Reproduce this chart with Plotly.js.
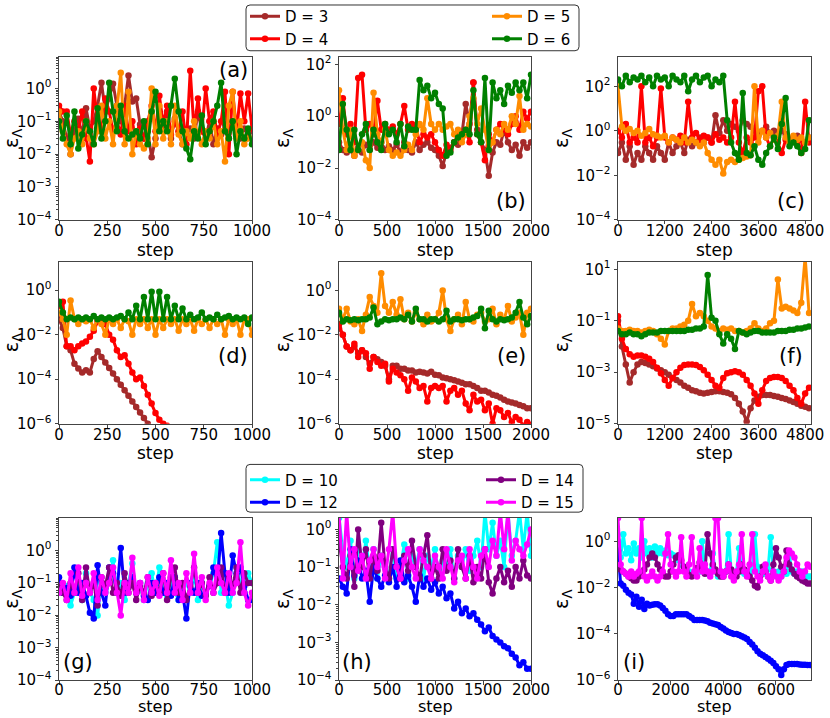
<!DOCTYPE html>
<html><head><meta charset="utf-8">
<script src="https://cdn.plot.ly/plotly-3.0.1.min.js"></script>
<style>html,body{margin:0;padding:0;background:#fff}#chart{width:830px;height:718px}</style>
</head><body><div id="chart"></div>
<script>
// ---------- sampling interval (steps between stored points) ----------
const dxA = 20, dxB = 40, dxC = 100, dxD = 20, dxE = 40, dxF = 100, dxG = 20, dxH = 40, dxI = 100;

// ---------- panel (a) ----------
const aD3 = [0.2,0.1,0.03,0.01,0.05,0.12,0.04,0.25,0.06,0.1,0.3,1.5,0.2,0.5,1.4,0.3,0.1,0.3,2.5,0.4,0.5,0.08,0.03,0.05,0.008,0.03,0.1,0.05,0.2,0.03,0.12,0.05,0.02,0.04,0.06,0.03,0.2,0.05,0.03,0.1,0.02,0.06,0.04,0.08,0.03,0.1,0.05,0.03,0.06,0.04,0.05];
const aD4 = [0.3,0.2,0.2,0.04,0.1,0.05,0.2,0.03,0.006,1.0,0.1,0.05,0.5,0.2,0.05,0.1,0.04,0.3,0.05,0.1,0.02,0.06,0.03,0.1,0.3,0.05,0.6,0.08,0.3,0.04,0.1,0.05,0.2,0.02,3.5,0.05,0.5,0.05,1.0,0.1,0.2,0.04,0.1,0.8,0.01,0.8,0.05,0.7,0.1,0.7,0.06];
const aD5 = [0.2,0.05,0.02,0.01,0.03,0.05,0.02,0.1,0.03,0.02,0.05,0.3,0.03,0.1,0.02,0.3,3.0,0.02,0.8,0.01,0.05,0.02,0.015,0.03,1.0,0.02,0.3,0.03,0.1,0.02,0.3,0.04,0.02,0.05,0.03,0.1,0.04,0.02,0.05,0.03,0.1,0.02,0.05,0.006,0.3,0.8,0.03,0.1,0.02,0.03,0.03];
const aD6 = [0.1,0.03,0.15,0.02,0.2,0.015,0.04,0.1,0.05,0.02,0.25,0.03,0.1,1.5,0.2,0.05,0.3,0.05,0.03,0.04,0.05,0.03,0.1,0.02,0.2,0.8,0.05,0.1,0.05,0.3,2.0,0.2,0.05,0.015,0.007,0.05,0.03,0.15,0.02,0.05,0.1,0.3,1.5,0.05,0.03,0.1,0.01,0.05,0.03,0.06,0.02];

// ---------- panel (b) ----------
const bD3 = [0.1,0.05,0.04,0.05,0.03,0.06,0.04,0.08,0.05,0.1,0.06,0.1,0.05,0.07,0.05,0.08,0.04,0.1,0.05,0.04,0.1,0.05,0.08,0.1,0.06,0.05,0.03,0.012,0.04,0.06,0.1,0.08,0.2,3,0.5,20,0.3,0.1,0.05,0.005,0.04,0.1,0.08,0.3,0.1,0.05,0.08,0.03,0.1,0.06,0.1];
const bD4 = [0.5,5,0.2,0.5,0.1,30,40,0.3,0.5,0.2,4,0.3,0.5,0.3,0.4,0.2,0.5,2.5,0.3,0.5,0.4,0.1,0.2,0.15,0.2,0.1,0.05,0.03,0.08,0.05,0.1,0.2,0.15,0.3,0.1,20,0.2,0.1,0.02,0.2,0.1,0.3,0.5,0.3,0.2,0.5,1,0.3,1.5,0.8,1.5];
const bD5 = [10,0.3,0.05,0.3,0.03,0.05,0.1,0.02,0.01,8,0.2,0.1,0.3,0.05,0.03,0.04,0.03,0.05,0.08,0.05,0.2,0.5,0.3,5,0.5,0.3,0.5,0.3,0.4,0.5,0.2,0.3,0.1,0.2,1,5,0.5,2,0.3,0.05,0.1,0.3,0.2,0.5,0.3,1,0.5,6,0.3,0.5,0.4];
const bD6 = [0.05,3,0.3,0.05,0.3,0.05,0.2,0.5,0.05,0.3,0.1,0.05,0.5,0.2,0.3,0.1,0.5,0.07,0.4,0.3,0.3,25,10,15,5,8,3,2,0.03,0.04,0.1,0.15,0.2,0.3,0.2,10,0.2,0.1,30,0.05,20,5,10,3,15,8,20,10,20,5,40];

// ---------- panel (c) ----------
const cD3 = [0.1,0.3,0.05,0.2,0.03,0.1,0.05,0.2,0.1,0.05,0.2,0.1,0.05,0.3,0.1,0.2,0.3,0.1,0.4,0.2,0.3,0.5,0.3,0.5,0.3,5,0.8,3,1,2,1.5,1,3,2,1.5,1,0.8,1,1.5,0.8,1,0.5,1,0.7,0.4,0.5,0.6,0.4,0.3,0.5];
const cD4 = [1,0.5,2,0.3,0.5,0.3,100,0.3,0.5,0.2,0.5,80,0.5,0.3,0.5,0.4,0.6,0.3,20,0.5,0.8,0.4,0.6,0.5,0.3,0.7,0.4,0.5,0.3,0.5,20,0.3,0.1,0.5,0.3,0.5,60,100,0.5,0.2,0.5,0.3,0.1,0.4,0.3,0.5,0.3,0.1,20,0.3];
const cD5 = [100,1.5,1,1.2,0.8,1,0.6,0.8,1.2,0.7,0.6,0.5,0.6,0.3,0.5,0.4,0.3,0.5,0.3,0.4,0.3,0.2,0.3,0.1,0.05,0.03,0.05,0.012,0.04,0.05,0.04,0.05,0.06,0.07,0.08,100,0.3,1,0.5,0.8,0.4,0.6,20,0.5,0.3,0.6,0.4,0.5,0.3,0.5];
const cD6 = [200,100,300,150,250,200,300,150,250,100,300,200,250,100,300,200,150,300,60,200,300,150,250,300,100,200,150,300,3,0.3,0.1,0.05,50,0.1,0.08,0.2,0.05,0.03,0.1,0.2,0.5,0.15,2,30,0.2,0.3,0.2,0.1,0.15,3];

// ---------- panel (d) ----------
const dD3 = [0.05,0.02,0.003,0.002,0.0005,0.0003,0.0002,0.00025,0.0002,0.0008,0.0018,0.001,0.00056,0.00032,0.00018,0.0001,0.000056,0.000032,0.000018,0.00001,0.0000056,0.0000032,0.0000018,0.000001,0.00000056];
const dD4 = [0.2,0.3,0.003,0.003,0.002,0.003,0.004,0.005,0.008,0.015,0.04,0.05,0.03,0.01,0.006,0.002,0.001,0.0012,0.0005,0.0002,0.0001,0.00012,0.00005,0.00002,0.000008,0.000003,0.0000015,0.000001,0.0000008];
const dD5 = [0.1,0.05,0.01,0.35,0.05,0.03,0.05,0.04,0.05,0.02,0.05,0.03,0.01,0.05,0.03,0.05,0.02,0.05,0.04,0.01,0.05,0.03,0.05,0.02,0.05,0.01,0.05,0.02,0.05,0.03,0.05,0.015,0.05,0.03,0.05,0.015,0.05,0.03,0.05,0.02,0.05,0.03,0.05,0.01,0.05,0.03,0.05,0.01,0.05,0.05,0.01];
const dD6 = [0.3,0.1,0.05,0.06,0.05,0.06,0.05,0.06,0.05,0.07,0.05,0.06,0.05,0.06,0.05,0.06,0.07,0.05,0.1,0.05,0.2,0.05,0.5,0.05,0.85,0.05,0.85,0.05,0.5,0.05,0.2,0.05,0.15,0.05,0.08,0.05,0.06,0.1,0.05,0.06,0.05,0.08,0.05,0.06,0.07,0.05,0.06,0.05,0.06,0.03,0.06];

// ---------- panel (e) ----------
const eD3 = [0.02,0.01,0.003,0.002,0.003,0.0015,0.002,0.001,0.0005,0.001,0.0008,0.0006,0.0004,0.0001,0.0004,0.0004,0.0003,0.0003,0.00025,0.00025,0.0002,0.00022,0.0002,0.00018,0.00022,0.00016,0.00015,0.00012,0.00011,0.0001,0.00009,0.00008,0.00007,0.00006,0.00006,0.00005,0.00004,0.00003,0.00003,0.000025,0.00002,0.000018,0.000015,0.000012,0.00001,0.000009,0.000008,0.000007,0.000006,0.000005,0.000005];
const eD4 = [0.03,0.01,0.003,0.002,0.004,0.001,0.002,0.0015,0.0003,0.001,0.0006,0.0004,0.0005,0.00008,0.0003,0.0002,0.00015,0.0001,0.00003,0.00012,0.00008,0.00004,0.00005,0.00001,0.00004,0.00005,0.00004,0.00005,0.00001,0.00003,0.00004,0.00002,0.00003,0.000008,0.000004,0.00002,0.00001,0.000012,0.000004,0.000008,0.000001,0.000005,0.000004,0.000002,0.000003,0.0000012,0.000002,0.0000015,0.0000008,0.0000012,0.0000009];
const eD5 = [0.15,0.05,0.15,0.04,0.03,0.05,0.015,0.08,0.5,0.2,0.1,6,0.2,0.1,0.3,0.08,0.4,0.05,0.1,0.04,0.1,0.05,0.03,0.08,0.04,0.05,0.1,1.0,0.05,0.015,0.05,0.08,0.03,0.3,0.05,0.04,0.08,0.1,0.04,0.05,0.15,0.03,0.08,0.05,0.2,0.04,0.06,0.1,0.01,0.1,0.15];
const eD6 = [0.1,0.04,0.05,0.045,0.05,0.045,0.05,0.05,0.06,0.17,0.03,0.04,0.05,0.045,0.05,0.05,0.06,0.05,0.08,0.04,0.15,0.05,0.05,0.04,0.05,0.05,0.04,0.05,0.12,0.04,0.05,0.05,0.045,0.05,0.05,0.06,0.07,0.15,0.02,0.12,0.05,0.04,0.05,0.045,0.05,0.06,0.1,0.3,0.06,0.03,0.07];

// ---------- panel (f) ----------
const fD3 = [0.1,0.01,0.002,0.0004,0.001,0.002,0.0025,0.0023,0.002,0.0017,0.0014,0.0012,0.001,0.0008,0.0006,0.0005,0.0004,0.0003,0.00025,0.0002,0.00018,0.00016,0.00015,0.00016,0.00017,0.00018,0.00018,0.00017,0.00016,0.00014,0.0001,0.00006,0.00003,0.000012,0.00004,0.00008,0.00011,0.00013,0.00013,0.00013,0.00012,0.00011,0.0001,0.00009,0.00008,0.00007,0.00006,0.00005,0.000045,0.00004];
const fD4 = [0.15,0.02,0.008,0.005,0.004,0.0045,0.0045,0.004,0.0033,0.0025,0.0015,0.0009,0.0005,0.0003,0.0006,0.001,0.0015,0.0019,0.002,0.002,0.0019,0.0016,0.0012,0.0008,0.0005,0.0003,0.00025,0.0006,0.0009,0.001,0.0011,0.001,0.0008,0.0005,0.0003,0.00015,0.00006,0.0002,0.00045,0.0006,0.00065,0.00065,0.0006,0.00045,0.0003,0.0002,0.0001,0.00006,0.00015,0.00025];
const fD5 = [0.05,0.04,0.04,0.045,0.04,0.04,0.035,0.04,0.045,0.04,0.03,0.02,0.012,0.04,0.05,0.05,0.06,0.07,0.1,0.45,0.15,0.2,0.15,0.1,0.06,0.05,0.04,0.05,0.045,0.05,0.04,0.04,0.035,0.04,0.05,0.08,0.05,0.04,0.05,0.08,0.1,4,0.3,0.35,0.3,0.25,0.2,0.5,30,0.2];
const fD6 = [0.04,0.03,0.03,0.035,0.03,0.03,0.025,0.03,0.035,0.035,0.035,0.04,0.04,0.04,0.04,0.04,0.04,0.04,0.045,0.045,0.05,0.05,0.06,6,0.13,0.1,0.03,0.013,0.03,0.02,0.008,0.04,0.035,0.03,0.035,0.04,0.04,0.035,0.035,0.035,0.035,0.04,0.04,0.04,0.045,0.045,0.05,0.05,0.055,0.06];

// ---------- panel (g) ----------
const gD10 = [0.1,0.05,0.08,0.02,0.05,0.1,0.03,0.2,0.05,0.03,0.01,0.1,0.05,0.1,0.5,0.05,0.1,0.03,0.1,0.4,0.05,0.08,0.03,0.1,0.2,0.05,0.3,0.1,0.04,0.1,0.05,0.03,0.08,0.1,0.05,0.2,0.03,0.1,0.05,0.08,0.2,1.8,0.05,0.1,0.02,0.05,0.3,0.1,0.05,0.2,0.1];
const gD12 = [0.15,0.05,0.07,0.04,0.3,0.05,0.1,0.04,0.012,0.008,0.35,0.05,0.02,0.3,0.2,0.05,1.2,0.05,0.1,0.15,0.05,0.1,0.04,0.03,0.1,0.05,0.15,0.05,0.1,0.04,0.15,0.03,0.05,0.008,0.1,0.05,0.1,0.04,0.05,0.08,0.3,0.1,3.5,0.2,0.05,0.7,0.2,0.3,0.08,0.03,0.03];
const gD14 = [0.08,0.05,0.03,0.1,0.05,0.2,0.03,0.3,0.05,0.1,0.02,0.15,0.08,0.3,0.05,0.1,0.04,0.2,0.05,0.1,0.03,0.08,0.05,0.15,0.04,0.1,0.05,0.2,0.03,0.15,0.3,0.05,0.1,0.03,0.08,0.3,0.05,0.1,0.04,0.15,0.05,0.1,0.3,0.05,0.15,0.08,0.3,0.05,0.2,0.1,0.1];
const gD15 = [0.05,0.1,0.03,0.2,0.05,0.3,0.04,0.1,0.05,0.2,0.03,0.15,0.05,0.1,0.3,0.05,0.01,0.1,0.05,0.6,0.05,0.1,0.03,0.15,0.05,0.1,0.04,0.2,0.05,0.5,0.05,0.1,0.03,0.2,0.05,0.8,0.05,0.15,0.03,0.1,0.05,0.3,0.1,0.05,0.2,0.05,0.1,1.8,0.05,0.02,0.05];

// ---------- panel (h) ----------
const hD10 = [2,0.3,0.1,0.5,0.05,0.3,0.1,0.5,0.08,0.3,0.05,0.2,0.1,0.05,0.3,0.05,0.1,0.4,0.05,0.2,0.1,0.3,0.05,0.2,0.1,0.3,0.05,0.15,0.1,0.3,0.05,0.2,0.1,0.3,0.08,0.2,0.5,0.1,3,0.3,1.5,0.2,0.5,0.1,3,0.2,0.5,3,0.3,3,0.2];
const hD12 = [0.05,0.03,0.02,0.3,0.06,0.15,0.05,0.08,0.012,0.1,0.05,0.03,0.06,0.04,0.1,0.03,0.15,0.04,0.06,0.03,0.012,0.06,0.03,0.05,0.025,0.04,0.02,0.03,0.015,0.02,0.008,0.012,0.006,0.008,0.005,0.006,0.004,0.003,0.002,0.0025,0.0015,0.0012,0.001,0.0008,0.0007,0.0005,0.0004,0.00025,0.0003,0.0002,0.0002];
const hD14 = [0.5,0.1,0.05,0.2,0.03,1.0,0.1,0.3,0.05,0.2,0.08,1.5,0.1,0.05,0.3,0.1,0.05,0.2,0.08,0.5,0.1,0.05,0.2,0.7,0.05,0.1,0.05,0.3,0.08,0.15,0.05,0.3,0.1,0.05,0.2,0.04,0.1,0.05,0.3,0.04,0.02,0.05,0.1,0.04,0.08,0.03,0.1,0.05,0.15,0.06,0.05];
const hD15 = [3,0.05,3,0.1,0.3,0.08,0.2,0.05,0.15,0.3,0.1,0.2,0.05,0.3,3,0.1,0.05,0.15,0.3,0.1,0.05,0.3,0.15,0.1,0.05,0.2,0.1,0.05,0.3,0.1,0.04,0.15,0.2,0.05,0.3,0.1,0.05,0.2,0.3,0.1,0.5,0.2,3,0.3,3,0.15,0.5,0.3,0.2,0.4,1.0];

// ---------- panel (i) ----------
const iD10 = [1.0,0.2,2,0.3,0.5,0.15,0.8,0.3,0.5,0.2,1,0.3,0.5,0.2,0.6,0.3,0.5,0.3,0.4,0.25,0.3,0.25,0.2,0.15,0.1,0.08,0.06,0.05,0.04,0.05,0.04,0.05,1.0,0.05,0.04,0.05,0.3,0.05,0.03,0.05,0.04,0.05,2,0.05,0.04,0.05,0.5,0.05,0.04,0.05,0.04,0.06,2,0.08,0.05,0.04,0.05,0.06,1.5,0.05,0.04,0.05,0.03,0.05,0.04,0.3,0.05,0.04,0.05,0.03,0.05,0.04,0.03,0.03];
const iD12 = [0.4,0.015,0.012,0.008,0.006,0.005,0.002,0.004,0.0015,0.003,0.0012,0.002,0.0017,0.0018,0.0019,0.0019,0.0017,0.0013,0.001,0.0007,0.0006,0.0006,0.0007,0.0007,0.0007,0.0007,0.0007,0.0006,0.0005,0.0004,0.0004,0.0004,0.0004,0.00038,0.00035,0.0003,0.00028,0.00026,0.00024,0.0002,0.00017,0.00014,0.00012,0.00011,0.0001,0.0001,0.00009,0.00008,0.00007,0.00006,0.000045,0.000035,0.000025,0.000018,0.000014,0.000012,0.00001,0.0000085,0.000007,0.0000055,0.000004,0.000003,0.0000017,0.000003,0.0000045,0.000005,0.000005,0.000005,0.000005,0.0000048,0.0000047,0.0000046,0.0000045,0.0000045];
const iD14 = [0.08,0.06,0.05,0.04,0.03,0.025,0.02,0.02,0.03,0.04,0.06,0.1,0.2,0.3,0.2,0.1,0.06,0.04,0.03,0.03,0.05,0.1,0.2,0.25,0.15,0.08,0.05,0.035,0.03,0.04,0.07,0.12,0.06,0.04,2,0.3,0.1,0.06,0.04,0.03,0.03,0.05,0.1,0.06,0.04,0.03,0.05,0.1,0.06,0.04,0.03,0.02,0.012,0.01,0.03,0.08,0.05,0.03,0.02,0.1,0.5,0.2,0.08,0.05,0.4,0.1,0.06,0.04,0.03,0.025,0.02,0.018,0.015,0.015];
const iD15 = [10,0.1,0.05,0.04,0.03,0.05,0.03,0.04,0.05,10,0.03,0.02,0.03,0.05,0.03,0.02,0.03,0.05,0.3,2,0.1,0.05,0.03,0.05,1.5,0.05,0.03,0.1,1.5,0.05,0.03,0.5,0.05,0.1,0.05,0.03,0.05,10,10,0.05,0.03,0.05,0.1,0.03,0.02,0.05,0.1,2,0.05,0.03,0.1,2,0.05,0.03,0.02,0.05,0.1,0.03,0.02,0.05,0.03,0.02,0.03,0.05,0.2,0.4,0.3,0.2,0.1,0.05,0.03,0.05,0.1,0.08];

// ---------- labels, colours, ticks ----------
const namesTop = ['D = 3','D = 4','D = 5','D = 6'];
const namesBot = ['D = 10','D = 12','D = 14','D = 15'];
const colorsTop = ['#a52a2a','#ff0000','#ff8c00','#008000'];
const colorsBot = ['#00ffff','#0000ff','#800080','#ff00ff'];
const panelLabels = ['(a)','(b)','(c)','(d)','(e)','(f)','(g)','(h)','(i)'];
const xTitle = 'step';
const yTitle = '\u03b5<sub>\u039b</sub>';
const xTicksA = [0,250,500,750,1000];
const xTicksB = [0,500,1000,1500,2000];
const xTicksC = [0,1200,2400,3600,4800];
const xTicksI = [0,2000,4000,6000];
const yExpA = [-4,-3,-2,-1,0];
const yExpB = [-4,-2,0,2];
const yExpD = [-6,-4,-2,0];
const yExpF = [-5,-3,-1,1];

const FONT = 'DejaVu Sans, Liberation Sans, sans-serif';
const W = 830, H = 718;
const px = v => v / W, py = v => 1 - v / H;

// panel geometry (pixel frames) and axis settings
const cols = [[59,252],[339,531],[618,811]];
const rows = [[53,217],[259,422],[517,680]];
const xTitleRowY = [247, 452, 706];
const xTitleSize = [17, 17, 16];
const panels = [
  {series:[aD3,aD4,aD5,aD6], dx:dxA, xr:[0,1000], xt:xTicksA, yr:[-4,0.97], ye:yExpA, minor:true, top:true, lab:[233,66]},
  {series:[bD3,bD4,bD5,bD6], dx:dxB, xr:[0,2000], xt:xTicksB, yr:[-4,2.3], ye:yExpB, top:true, lab:[511,198]},
  {series:[cD3,cD4,cD5,cD6], dx:dxC, xr:[0,4950], xt:xTicksC, yr:[-4,3.33], ye:yExpB, top:true, lab:[791,198]},
  {series:[dD3,dD4,dD5,dD6], dx:dxD, xr:[0,1000], xt:xTicksA, yr:[-6,1.29], ye:yExpD, top:true, lab:[233,354]},
  {series:[eD3,eD4,eD5,eD6], dx:dxE, xr:[0,2000], xt:xTicksB, yr:[-6,1.3], ye:yExpD, top:true, lab:[511,354]},
  {series:[fD3,fD4,fD5,fD6], dx:dxF, xr:[0,4950], xt:xTicksC, yr:[-5,1.3], ye:yExpF, top:true, lab:[791,354]},
  {series:[gD10,gD12,gD14,gD15], dx:dxG, xr:[0,1000], xt:xTicksA, yr:[-4,1.0], ye:yExpA, minor:true, top:false, lab:[78,662]},
  {series:[hD10,hD12,hD14,hD15], dx:dxH, xr:[0,2000], xt:xTicksB, yr:[-4,0.3], ye:yExpA, minor:true, top:false, lab:[357,662]},
  {series:[iD10,iD12,iD14,iD15], dx:dxI, xr:[0,7330], xt:xTicksI, yr:[-6,1.0], ye:yExpD, top:false, lab:[634,662]}
];

const traces = [];
const layout = {
  width: W, height: H, margin:{l:0,r:0,t:0,b:0},
  paper_bgcolor:'#fff', plot_bgcolor:'#fff',
  font:{family:FONT, size:15, color:'#000'},
  annotations:[], shapes:[]
};

panels.forEach((p, k) => {
  const n = k + 1, sx = n === 1 ? '' : String(n);
  const r = Math.floor(k / 3);
  const col = cols[k % 3], row = rows[r];
  const names = p.top ? namesTop : namesBot;
  const colors = p.top ? colorsTop : colorsBot;
  p.series.forEach((ys, j) => {
    const inLegend = (k === 0 || k === 6);
    const leg = k === 0 ? (j < 2 ? 'legend' : 'legend2') : (j < 2 ? 'legend3' : 'legend4');
    traces.push({
      type:'scatter', mode:'lines+markers', x0:0, dx:p.dx, y:ys,
      xaxis:'x'+sx, yaxis:'y'+sx, name:names[j],
      line:{color:colors[j], width:3}, marker:{color:colors[j], size:6.5},
      showlegend: inLegend, legend: inLegend ? leg : undefined,
      hoverinfo:'skip'
    });
  });
  const common = {showline:true, mirror:true, linecolor:'#444', linewidth:1, ticks:'outside', ticklen:3.5,
    tickcolor:'#444', showgrid:false, zeroline:false, automargin:false,
    tickfont:{size:15, family:FONT, color:'#000'}};
  layout['xaxis'+sx] = Object.assign({}, common, {
    anchor:'y'+sx, domain:[px(col[0]), px(col[1])], range:p.xr, tickmode:'array',
    tickvals:p.xt, ticktext:p.xt.map(String), ticklabelstandoff: r === 2 ? -8 : -6
  });
  const yax = Object.assign({}, common, {
    anchor:'x'+sx, type:'log', domain:[py(row[1]), py(row[0])], range:p.yr, tickmode:'array',
    tickvals:p.ye.map(e => Math.pow(10, e)),
    ticktext:p.ye.map(e => '10<sup>' + (e < 0 ? '\u2212' + (-e) : e) + '</sup>'),
    title:{text:yTitle, font:{size:19, family:FONT, color:'#000'}, standoff:2}
  });
  if (p.minor) yax.minor = {ticks:'outside', ticklen:2, tickcolor:'#444', dtick:'D1', showgrid:false};
  layout['yaxis'+sx] = yax;
  // x-axis title placed under the axis
  layout.annotations.push({xref:'x'+sx+' domain', yref:'paper', x:0.5, y:py(xTitleRowY[r]),
    text:xTitle, showarrow:false, xanchor:'center', yanchor:'middle',
    font:{size:xTitleSize[r], family:FONT, color:'#000'}});
  layout.annotations.push({xref:'paper', yref:'paper', x:px(p.lab[0]), y:py(p.lab[1]),
    text:panelLabels[k], showarrow:false, xanchor:'center', yanchor:'middle',
    font:{size:21, family:FONT, color:'#000'}});
});

// legends
const legCommon = {bgcolor:'rgba(0,0,0,0)', borderwidth:0, font:{size:15, family:FONT, color:'#000'},
  orientation:'v', xanchor:'left', yanchor:'top', itemclick:false, itemdoubleclick:false, tracegroupgap:0};
layout.legend  = Object.assign({}, legCommon, {x:px(245), y:py(-4)});
layout.legend2 = Object.assign({}, legCommon, {x:px(487), y:py(-4)});
layout.legend3 = Object.assign({}, legCommon, {x:px(245), y:py(462)});
layout.legend4 = Object.assign({}, legCommon, {x:px(481), y:py(462)});

// rounded legend frames
function roundRect(x0, y0, x1, y1, rad) {
  const a = px(x0), b = px(x1), t = py(y0), u = py(y1), rx = rad / W, ry = rad / H;
  return `M ${a+rx},${t} L ${b-rx},${t} Q ${b},${t} ${b},${t-ry} L ${b},${u+ry} Q ${b},${u} ${b-rx},${u} ` +
         `L ${a+rx},${u} Q ${a},${u} ${a},${u+ry} L ${a},${t-ry} Q ${a},${t} ${a+rx},${t} Z`;
}
layout.shapes.push({type:'path', xref:'paper', yref:'paper', path:roundRect(246,1,579,47,4), line:{color:'#333', width:1}, fillcolor:'rgba(255,255,255,0.8)', layer:'above'});
layout.shapes.push({type:'path', xref:'paper', yref:'paper', path:roundRect(246,463,583,511,4), line:{color:'#333', width:1}, fillcolor:'rgba(255,255,255,0.8)', layer:'above'});

Plotly.newPlot('chart', traces, layout, {displayModeBar:false, staticPlot:true});
</script></body></html>
